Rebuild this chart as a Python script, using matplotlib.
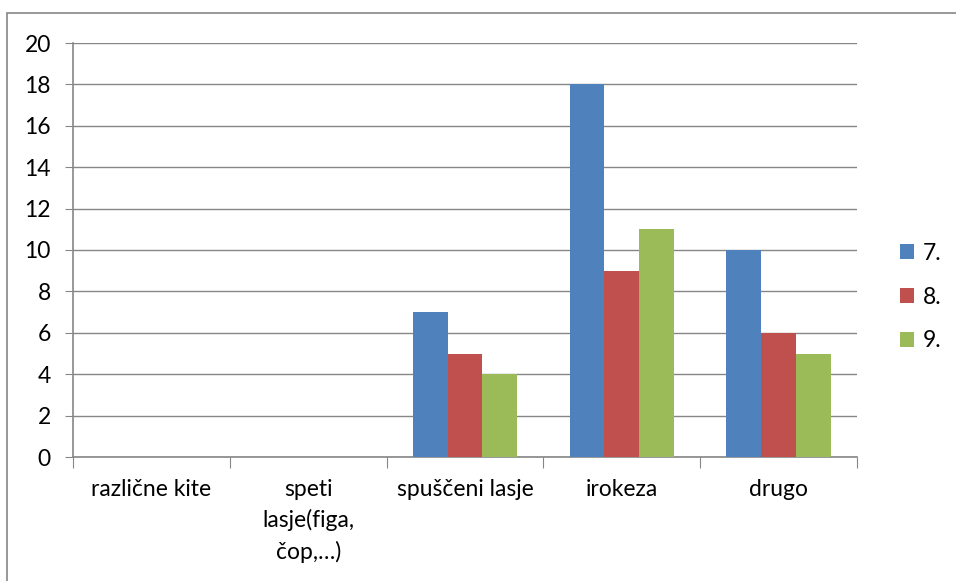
import matplotlib
matplotlib.use("Agg")
import matplotlib.pyplot as plt
import numpy as np
from matplotlib.patches import Rectangle

categories = ["različne kite", "speti\nlasje(figa,\nčop,…)", "spuščeni lasje", "irokeza", "drugo"]
series_names = ["7.", "8.", "9."]
s7 = [0, 0, 7, 18, 10]
s8 = [0, 0, 5, 9, 6]
s9 = [0, 0, 4, 11, 5]
colors = ["#4F81BD", "#C0504D", "#9BBB59"]

plt.rcParams['font.family'] = ['Lato', 'DejaVu Sans']
FS = 16.5

fig = plt.figure(figsize=(9.56, 5.81), dpi=100)
fig.patches.append(Rectangle((7/956, -0.1), 1.2, (581-13)/581 + 0.1, transform=fig.transFigure,
                             fill=False, edgecolor="#868686", linewidth=1.2))
ax = fig.add_axes([73/956, (581-457)/581, (857-73)/956, (457-43)/581])

n = len(categories)
x = np.arange(n)
bw = 1/4.5
for i, (vals, c) in enumerate(zip([s7, s8, s9], colors)):
    ax.bar(x + (i-1)*bw, vals, width=bw, color=c, label=series_names[i], zorder=3)

ax.set_xlim(-0.5, n-0.5)
ax.set_ylim(0, 20)
ax.set_yticks(range(0, 21, 2))
ax.tick_params(axis='y', labelsize=FS, length=6, color="#868686", pad=10)
ax.set_xticks(np.arange(-0.5, n, 1))
ax.set_xticklabels([])
ax.set_xticks(x, minor=True)
ax.set_xticklabels(categories, minor=True, fontsize=FS, linespacing=1.5)
ax.tick_params(axis='x', which='major', length=8, color="#868686")
ax.tick_params(axis='x', which='minor', length=0, pad=16)
ax.grid(axis='y', color="#868686", linewidth=1, zorder=0)
for s in ['top', 'right']:
    ax.spines[s].set_visible(False)
for s in ['left', 'bottom']:
    ax.spines[s].set_color("#868686")
    ax.spines[s].set_linewidth(1.2)

ax.legend(loc='center left', bbox_to_anchor=((900-73)/784, (457-297)/414), frameon=False, fontsize=FS,
          handlelength=0.6, handleheight=0.6, labelspacing=1.0, handletextpad=0.4, borderpad=0,
          borderaxespad=0)

fig.savefig("out.png", dpi=100)
